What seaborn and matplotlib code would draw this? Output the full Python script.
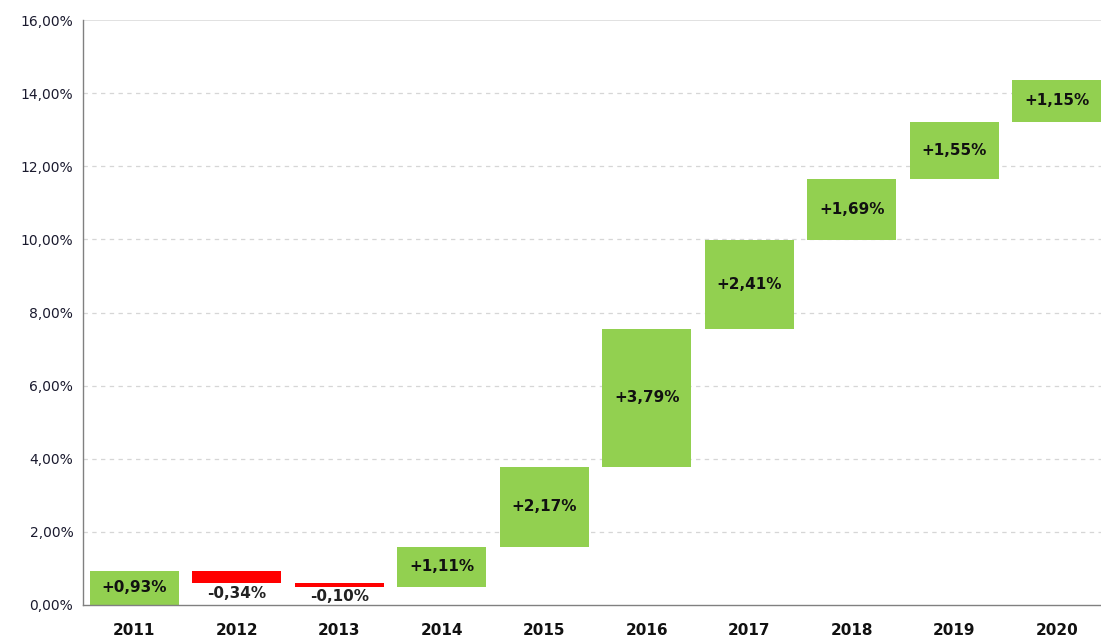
import matplotlib
matplotlib.use("Agg")
import matplotlib.pyplot as plt
import seaborn as sns
import numpy as np
import pandas as pd
from matplotlib.ticker import FuncFormatter, MultipleLocator, FixedLocator

years = ["2011", "2012", "2013", "2014", "2015", "2016", "2017", "2018", "2019", "2020"]
changes = [0.93, -0.34, -0.10, 1.11, 2.17, 3.79, 2.41, 1.69, 1.55, 1.15]
labels = ["+0,93%", "-0,34%", "-0,10%", "+1,11%", "+2,17%", "+3,79%", "+2,41%", "+1,69%", "+1,55%", "+1,15%"]

ends = np.cumsum(changes)
starts = ends - np.array(changes)
bottoms = np.minimum(starts, ends)
heights = np.abs(changes)
colors = ["#92D050" if c >= 0 else "#FF0000" for c in changes]

df = pd.DataFrame({"year": years, "height": heights})

sns.set_style("white")
plt.rcParams['font.family'] = ['DejaVu Sans']

fig = plt.figure(figsize=(11.01, 6.4), dpi=100)
ax = fig.add_axes([83/1101, 35/640, (1108-83)/1101, (605-20)/640])

sns.barplot(data=df, x="year", y="height", bottom=bottoms, errorbar=None,
            width=0.87, ax=ax, color="#92D050", linewidth=0)
for p, c in zip(ax.patches, colors):
    p.set_facecolor(c)
    p.set_edgecolor("none")

for i, (b, h, c, lab) in enumerate(zip(bottoms, heights, changes, labels)):
    if c >= 0:
        ax.text(i, b + h / 2, lab, ha="center", va="center", fontsize=11,
                fontweight="bold", color="#111111")
    else:
        ax.text(i, b - 0.06, lab, ha="center", va="top", fontsize=11,
                fontweight="bold", color="#222222")

ax.set_ylim(0, 16)
ax.set_xlim(-0.5, len(years) - 0.5)
ax.yaxis.set_major_locator(MultipleLocator(2))
ax.yaxis.set_major_formatter(FuncFormatter(lambda v, p: f"{v:.2f}".replace(".", ",") + "%"))
for yv in range(2, 16, 2):
    ax.axhline(yv, color="#d6d6d6", linestyle=(0, (3.5, 3.5)), linewidth=0.9, zorder=0)
ax.axhline(16, color="#dcdcdc", linewidth=1.2, zorder=0)

ax.set_xticks(range(len(years)))
ax.set_xticklabels(years, fontweight="bold", fontsize=11, color="#111111")
ax.xaxis.set_minor_locator(FixedLocator(np.arange(-0.5, len(years), 1.0)))
ax.tick_params(axis="x", which="major", length=0, pad=13)
ax.tick_params(axis="x", which="minor", length=5, color="#808080", width=1)
ax.tick_params(axis="y", which="major", length=5, color="#808080", width=1,
               labelsize=10, labelcolor="#1a1a2e", pad=2)

for s in ["top", "right"]:
    ax.spines[s].set_visible(False)
ax.spines["left"].set_color("#808080")
ax.spines["bottom"].set_color("#808080")
ax.spines["left"].set_linewidth(1)
ax.spines["bottom"].set_linewidth(1)
ax.set_xlabel("")
ax.set_ylabel("")

fig.savefig("out.png", dpi=100)
